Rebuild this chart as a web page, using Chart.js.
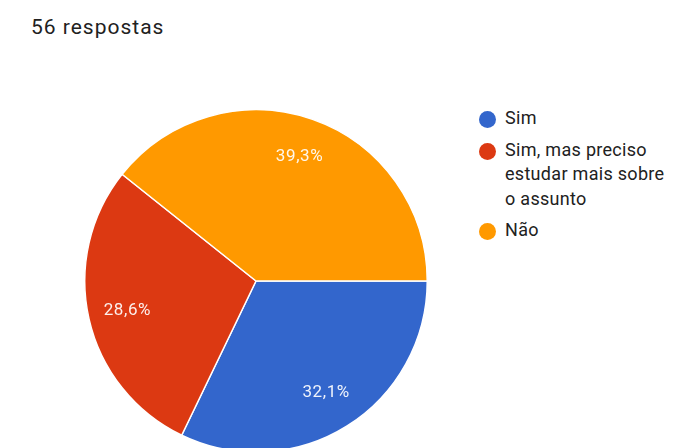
<!DOCTYPE html>
<html>
<head>
<meta charset="utf-8">
<script src="https://cdn.jsdelivr.net/npm/chart.js@4.4.1/dist/chart.umd.min.js"></script>
<style>
    html, body { margin: 0; padding: 0; width: 675px; height: 448px; overflow: hidden; background: #fff; font-family: Roboto, sans-serif; }
    #title { position: absolute; left: 31px; top: 15px; font-size: 21px; color: #212121; letter-spacing: 1px; }
    #pieBox { position: absolute; left: 84px; top: 109px; width: 344px; height: 344px; }
    #legend { position: absolute; left: 478px; top: 106px; width: 195px; }
    .leg-item { position: relative; padding-left: 27px; font-size: 18px; line-height: 24.5px; color: #212121; margin-bottom: 7px; letter-spacing: 0.3px; }
    .leg-dot { position: absolute; left: 1px; top: 5px; width: 17px; height: 17px; border-radius: 50%; }
</style>
</head>
<body>
<div id="title">56 respostas</div>
<div id="pieBox"><canvas id="pie"></canvas></div>
<div id="legend"></div>
<script>
// --- Data ---
const labels = ['Sim', 'Sim, mas preciso estudar mais sobre o assunto', 'Não'];
const legendLines = [['Sim'], ['Sim, mas preciso', 'estudar mais sobre', 'o assunto'], ['Não']];
const counts = [18, 16, 22];
const percentLabels = ['32,1%', '28,6%', '39,3%'];
const colors = ['#3366cc', '#dc3912', '#ff9900'];

// --- Legend (HTML) ---
const legendEl = document.getElementById('legend');
labels.forEach((l, i) => {
    const item = document.createElement('div');
    item.className = 'leg-item';
    item.innerHTML = '<span class="leg-dot" style="background:' + colors[i] + '"></span>' + legendLines[i].join('<br>');
    legendEl.appendChild(item);
});

// --- Percent labels inside slices ---
const sliceLabels = {
    id: 'sliceLabels',
    afterDatasetsDraw(chart) {
        const ctx = chart.ctx;
        const meta = chart.getDatasetMeta(0);
        ctx.save();
        ctx.font = '17px Roboto, sans-serif';
        ctx.letterSpacing = '0.6px';
        ctx.fillStyle = 'rgba(255,255,255,0.92)';
        ctx.textAlign = 'center';
        ctx.textBaseline = 'middle';
        meta.data.forEach((arc, i) => {
            const p = arc.getProps(['x', 'y', 'startAngle', 'endAngle', 'outerRadius']);
            const mid = (p.startAngle + p.endAngle) / 2;
            const r = p.outerRadius * 0.77;
            ctx.fillText(percentLabels[i], p.x + Math.cos(mid) * r, p.y + Math.sin(mid) * r);
        });
        ctx.restore();
    }
};

new Chart(document.getElementById('pie'), {
    type: 'pie',
    data: {
        labels: labels,
        datasets: [{
            data: counts,
            backgroundColor: colors,
            borderColor: '#ffffff',
            borderWidth: 1.5
        }]
    },
    options: {
        responsive: true,
        maintainAspectRatio: false,
        animation: false,
        rotation: 90,
        layout: { padding: 0 },
        plugins: {
            legend: { display: false },
            tooltip: { enabled: false }
        }
    },
    plugins: [sliceLabels]
});
</script>
</body>
</html>
